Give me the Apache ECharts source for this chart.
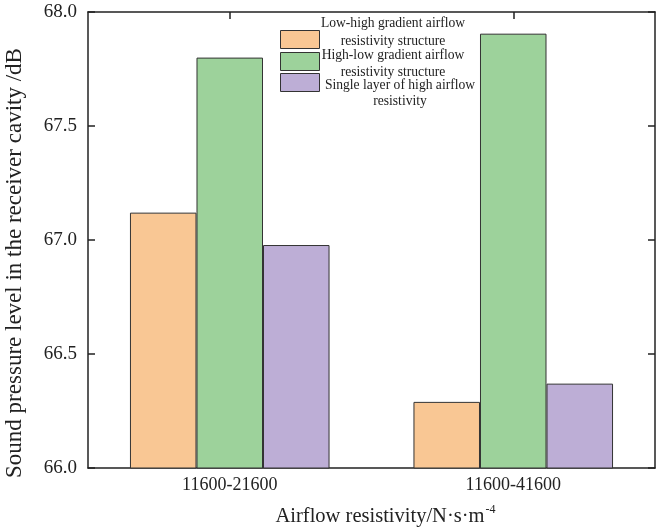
<!DOCTYPE html>
<html>
<head>
<meta charset="utf-8">
<script src="https://cdn.jsdelivr.net/npm/echarts@6/dist/echarts.min.js"></script>
<style>html,body{margin:0;padding:0;background:#fff}#c{width:661px;height:530px}</style>
</head>
<body>
<div id="c"></div>
<script>
const categories = ['11600-21600', '11600-41600'];
const seriesNames = [
  ['Low-high gradient airflow', 'resistivity structure'],
  ['High-low gradient airflow', 'resistivity structure'],
  ['Single layer of high airflow', 'resistivity']
];
const lowHigh = [67.12, 66.29];
const highLow = [67.80, 67.905];
const singleHigh = [66.978, 66.37];
const yTicks = ['66.0', '66.5', '67.0', '67.5', '68.0'];

const colors = ['#F9C794', '#9DD29B', '#BDAED6'];
const FONT = '"Liberation Serif", "Times New Roman", serif';
const chart = echarts.init(document.getElementById('c'), null, {renderer: 'canvas'});

const values = [lowHigh, highLow, singleHigh];
const series = values.map((v, i) => ({
  name: seriesNames[i].join(' '),
  type: 'bar',
  xAxisIndex: 0,
  yAxisIndex: 0,
  data: v,
  barGap: '0%',
  barCategoryGap: '29.6%',
  itemStyle: {color: colors[i], borderColor: '#333', borderWidth: 1},
  z: 2
}));

// legend drawn as graphic (multi-line centered labels)
const legendGraphics = [];
const iconTops = [30, 52, 73];
const textLines = [[23, 41], [55, 72], [85, 101]];
const textX = [393, 393, 400];
seriesNames.forEach((lines, i) => {
  legendGraphics.push({
    type: 'rect', left: 280, top: iconTops[i],
    shape: {width: 39, height: 18},
    style: {fill: colors[i], stroke: '#333', lineWidth: 1}, z: 10
  });
  lines.forEach((t, j) => {
    legendGraphics.push({
      type: 'text', x: textX[i], y: textLines[i][j],
      style: {text: t, font: '13.6px ' + FONT, fill: '#222', align: 'center', verticalAlign: 'middle'},
      z: 10
    });
  });
});

const axisLine = {show: true, lineStyle: {color: '#222', width: 1.5}};
chart.setOption({
  animation: false,
  backgroundColor: '#fff',
  grid: {left: 88, right: 6, top: 12, bottom: 62, containLabel: false, outerBoundsMode: 'none'},
  xAxis: [{
    type: 'category', data: categories, position: 'bottom',
    axisLine: axisLine,
    axisTick: {show: true, inside: true, alignWithLabel: true, length: 7, lineStyle: {color: '#222', width: 1.5}},
    axisLabel: {fontFamily: FONT, fontSize: 18, color: '#222', margin: 8},
    name: '{a|Airflow resistivity/N·s·m}{s|-4}',
    nameLocation: 'middle', nameGap: 36,
    nameTextStyle: {fontFamily: FONT, fontSize: 20.5, color: '#222', padding: [0, 0, 0, 28],
      rich: {a: {fontFamily: FONT, fontSize: 20.5, color: '#222'}, s: {fontFamily: FONT, fontSize: 12, color: '#222', verticalAlign: 'top', padding: [0, 0, 14, 1]}}},
    splitLine: {show: false}
  }, {
    type: 'category', data: categories, position: 'top',
    axisLine: axisLine,
    axisTick: {show: true, inside: true, alignWithLabel: true, length: 7, lineStyle: {color: '#222', width: 1.5}},
    axisLabel: {show: false}, splitLine: {show: false}
  }],
  yAxis: [{
    type: 'value', min: 66, max: 68, interval: 0.5, position: 'left',
    axisLine: axisLine,
    axisTick: {show: true, inside: true, length: 7, lineStyle: {color: '#222', width: 1.5}},
    axisLabel: {fontFamily: FONT, fontSize: 19, color: '#222', margin: 11,
      formatter: (v) => yTicks[Math.round((v - 66) / 0.5)]},
    splitLine: {show: false},
    name: 'Sound pressure level in the receiver cavity /dB',
    nameLocation: 'middle', nameGap: 62,
    nameTextStyle: {fontFamily: FONT, fontSize: 23, color: '#222', padding: [0, 46, 0, 0]}
  }, {
    type: 'value', min: 66, max: 68, interval: 0.5, position: 'right',
    axisLine: axisLine,
    axisTick: {show: true, inside: true, length: 7, lineStyle: {color: '#222', width: 1.5}},
    axisLabel: {show: false}, splitLine: {show: false}
  }],
  series: series,
  graphic: legendGraphics
});
</script>
</body>
</html>
